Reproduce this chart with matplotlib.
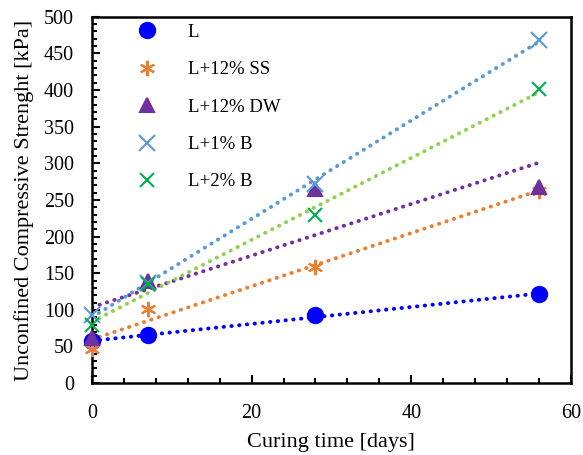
import numpy as np
import matplotlib
matplotlib.use("Agg")
import matplotlib.pyplot as plt
from matplotlib.ticker import MultipleLocator

plt.rcParams['font.family'] = ['Liberation Serif', 'DejaVu Serif']

# data
days = [0, 7, 28, 56]
labels = ["L", "L+12% SS", "L+12% DW", "L+1% B", "L+2% B"]
ucs_L = [57, 65, 93, 121]
ucs_SS = [47, 101, 159, 262]
ucs_DW = [62, 140, 265, 268]
ucs_B1 = [93, 137, 272, 469]
ucs_B2 = [79, 135, 229, 401]

series = [ucs_L, ucs_SS, ucs_DW, ucs_B1, ucs_B2]
marker_colors = ["#0000FF", "#ED7D31", "#7030A0", "#5B9BD5", "#00B050"]
trend_colors = ["#0000FF", "#ED7D31", "#7030A0", "#5B9BD5", "#92D050"]
markers = ["o", (6, 2, 0), "^", "x", "x"]
msizes = [11, 11, 10, 11, 10]

fig = plt.figure(figsize=(5.83, 4.55), dpi=100)
ax = fig.add_axes([0.158, 0.158, 0.821, 0.805])

for vals, lab, mc, tc, mk, ms in zip(series, labels, marker_colors, trend_colors, markers, msizes):
    ax.plot(days, vals, linestyle="none", marker=mk, color=mc, markersize=ms,
            markeredgewidth=1.5, label=lab, zorder=3, clip_on=False)
    # linear trendline
    slope, icpt = np.polyfit(days, vals, 1)
    xs = np.array([days[0], days[-1]])
    ax.plot(xs, slope * xs + icpt, color=tc, linewidth=2.8,
            linestyle=(0, (0.1, 1.9)), dash_capstyle="round", zorder=2)

ax.set_xlim(0, 60)
ax.set_ylim(0, 500)
ax.xaxis.set_major_locator(MultipleLocator(20))
ax.xaxis.set_minor_locator(MultipleLocator(4))
ax.yaxis.set_major_locator(MultipleLocator(50))
ax.yaxis.set_minor_locator(MultipleLocator(10))
ax.tick_params(which="both", direction="in", labelsize=14.5, width=1.5)
ax.tick_params(which="major", length=6)
ax.tick_params(which="minor", length=3.5)
ax.tick_params(axis="x", which="major", pad=15)
ax.tick_params(axis="y", which="major", pad=13)
for sp in ax.spines.values():
    sp.set_linewidth(1.8)

ax.set_xlabel("Curing time [days]", fontsize=16, labelpad=7)
ax.set_ylabel("Unconfined Compressive Strenght [kPa]", fontsize=16, labelpad=7)

ax.legend(loc="upper left", bbox_to_anchor=(0.051, 1.027), frameon=False,
          fontsize=13.5, labelspacing=1.08, handletextpad=1.4, handlelength=1.5)

fig.savefig("out.png", dpi=100)
